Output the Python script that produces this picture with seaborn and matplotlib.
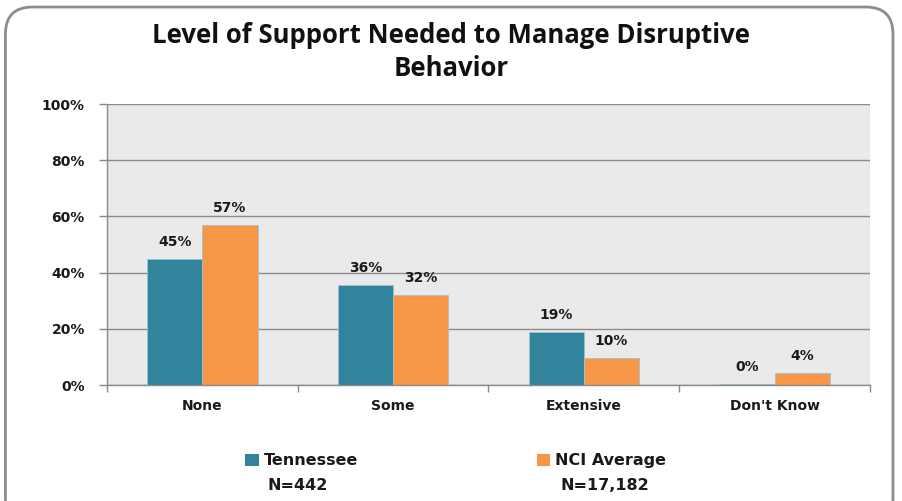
import matplotlib
matplotlib.use("Agg")
import matplotlib.pyplot as plt
from matplotlib.patches import FancyBboxPatch, Patch
import seaborn as sns
import pandas as pd

categories = ["None", "Some", "Extensive", "Don't Know"]
tennessee = [45, 35.6, 19, 0.4]
nci_average = [57, 32, 9.6, 4.4]
series_names = ["Tennessee", "NCI Average"]
series_n = ["N=442", "N=17,182"]
yticks = [0, 20, 40, 60, 80, 100]
title = "Level of Support Needed to Manage Disruptive\nBehavior"

colors = ["#31849B", "#F79646"]

df = pd.DataFrame({
    "Category": categories * 2,
    "Series": [series_names[0]] * 4 + [series_names[1]] * 4,
    "Value": tennessee + nci_average,
})

sns.set_theme(style="white")
plt.rcParams["font.family"] = ["DejaVu Sans"]
BASE = "DejaVu Sans"

fig = plt.figure(figsize=(9.02, 5.01), dpi=100)
ax = fig.add_axes([0.1186, 0.2315, 0.8459, 0.5609])

sns.barplot(data=df, x="Category", y="Value", hue="Series", order=categories,
            hue_order=series_names, palette=colors, width=0.58, ax=ax,
            edgecolor="#9ec3cf", linewidth=0.6, legend=False, saturation=1)

for cont in ax.containers:
    ax.bar_label(cont, labels=[f"{b.get_height():.0f}%" for b in cont],
                 padding=7, fontsize=10, fontweight="bold", color="#1a1a1a", family=BASE)

ax.set_facecolor("#EAEAEA")
ax.set_ylim(0, 100)
ax.set_xlim(-0.5, 3.5)
ax.set_yticks(yticks)
ax.set_yticklabels([f"{t}%" for t in yticks], fontsize=10, fontweight="bold",
                   color="#1a1a1a", family=BASE)
ax.yaxis.grid(True, color="#8a8a8a", linewidth=1)
ax.set_axisbelow(True)
ax.set_xlabel("")
ax.set_ylabel("")
ax.set_xticks(range(len(categories)))
ax.set_xticklabels(categories, fontsize=10, fontweight="bold", color="#1a1a1a", family=BASE)
ax.tick_params(axis="x", length=0, pad=10)
ax.set_xticks([-0.5, 0.5, 1.5, 2.5, 3.5], minor=True)
ax.tick_params(axis="x", which="minor", length=5, color="#8a8a8a", width=1, direction="out", bottom=True)
ax.tick_params(axis="y", length=6, color="#8a8a8a", width=1, direction="out", left=True, pad=10)
for s in ["top", "right"]:
    ax.spines[s].set_visible(False)
for s in ["left", "bottom"]:
    ax.spines[s].set_color("#8a8a8a")
    ax.spines[s].set_linewidth(1)

fig.text(0.5, 0.896, title, ha="center", va="center", fontsize=18.5,
         fontweight="bold", family=["Open Sans", "DejaVu Sans"], linespacing=1.25, color="#111111")

handles = [Patch(facecolor=c, edgecolor="none") for c in colors]
leg = fig.legend(handles, series_names, loc="center left", bbox_to_anchor=(0.2558, 0.08),
                 ncol=2, frameon=False, handlelength=0.85, handleheight=0.85,
                 handletextpad=0.3, columnspacing=11.2,
                 prop={"size": 11.5, "weight": "bold", "family": BASE})
for t in leg.get_texts():
    t.set_color("#1a1a1a")
fig.text(0.297, 0.030, series_n[0], ha="left", va="center", fontsize=11.5,
         fontweight="bold", color="#1a1a1a", family=BASE)
fig.text(0.621, 0.030, series_n[1], ha="left", va="center", fontsize=11.5,
         fontweight="bold", color="#1a1a1a", family=BASE)

border = FancyBboxPatch((0.006, -0.05), 0.984, 1.036, boxstyle="round,pad=0,rounding_size=0.03",
                        transform=fig.transFigure, facecolor="none", edgecolor="#8c8c8c",
                        linewidth=2, mutation_aspect=902 / 501)
fig.patches.append(border)

fig.savefig("out.png", dpi=100)
